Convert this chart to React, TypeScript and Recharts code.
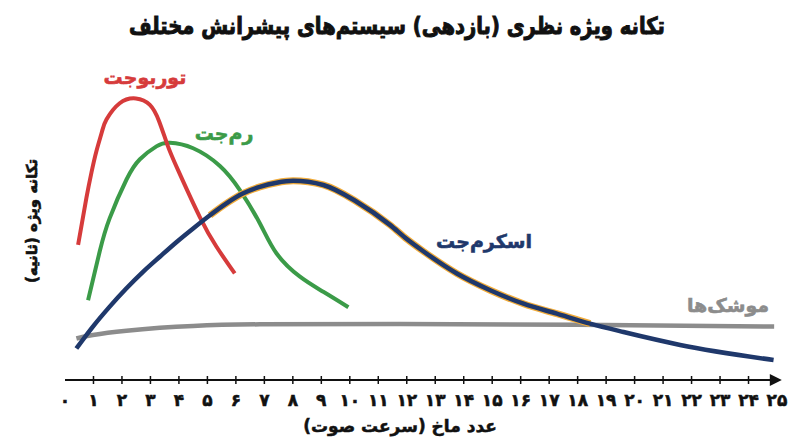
import React from 'react';
import { LineChart, Line, XAxis, YAxis } from 'recharts';

// ---- data ----
const machTicks = [0, 1, 2, 3, 4, 5, 6, 7, 8, 9, 10, 11, 12, 13, 14, 15, 16, 17, 18, 19, 20, 21, 22, 23, 24, 25];
const tickLabels = ['۰', '۱', '۲', '۳', '۴', '۵', '۶', '۷', '۸', '۹', '۱۰', '۱۱', '۱۲', '۱۳', '۱۴', '۱۵', '۱۶', '۱۷', '۱۸', '۱۹', '۲۰', '۲۱', '۲۲', '۲۳', '۲۴', '۲۵'];

const turbojetMach = [0.46, 0.75, 0.93, 1.1, 1.3, 1.46, 1.92, 2.49, 2.98, 3.3, 3.6, 3.97, 4.73, 5.32, 5.96];
const turbojetIsp = [42, 56.5, 64.5, 71, 77.2, 81, 86, 87.5, 85.5, 80.5, 73, 65.2, 50.7, 41.4, 33.1];

const ramjetMach = [0.81, 1.22, 1.57, 2.16, 2.63, 3.21, 3.68, 4.5, 5.44, 6.14, 6.84, 7.43, 8.25, 9.07, 9.95];
const ramjetIsp = [24.8, 40, 50.3, 62.3, 68.6, 72.6, 73.7, 72, 66.5, 59, 48.7, 39.3, 32.1, 27.4, 22.6];

const scramjetMach = [0.4, 0.98, 1.57, 2.16, 2.74, 3.33, 3.92, 4.5, 5.09, 5.67, 6.26, 6.84, 7.43, 8.01, 9.07, 10.24, 11.41, 12.0, 12.58, 13.76, 14.93, 16.1, 17.27, 18.44, 19.61, 21.6, 24.88];
const scramjetIsp = [9.8, 16.6, 22.8, 28.5, 33.6, 38.3, 42.9, 47.1, 51.2, 54.9, 58, 60, 61.3, 61.9, 60.6, 55.4, 48.2, 43.8, 40.0, 33.1, 27.9, 23.7, 20.6, 17.5, 14.9, 10.9, 6.2];
const haloRange = [5.0, 18.5];

const rocketMach = [0.4, 0.98, 2.16, 3.33, 4.5, 6.84, 11.76, 18, 24.9];
const rocketIsp = [12.9, 14, 15.3, 16.2, 16.8, 17.3, 17.4, 17.2, 16.6];

const title = 'تکانه ویژه نظری (بازدهی) سیستم\u200cهای پیشرانش مختلف';
const xTitle = 'عدد ماخ (سرعت صوت)';
const yTitle = 'تکانه ویژه (ثانیه)';
const seriesNames = {
  turbojet: 'توربوجت',
  ramjet: 'رم\u200cجت',
  scramjet: 'اسکرم\u200cجت',
  rocket: 'موشک\u200cها',
};

const toRows = (xs: number[], ys: number[]) => xs.map((m, i) => ({ mach: m, isp: ys[i] }));
const turbojetData = toRows(turbojetMach, turbojetIsp);
const ramjetData = toRows(ramjetMach, ramjetIsp);
const scramjetData = toRows(scramjetMach, scramjetIsp);
const haloData = scramjetData.filter((d) => d.mach >= haloRange[0] && d.mach <= haloRange[1]);
const rocketData = toRows(rocketMach, rocketIsp);

const FONT = '"DejaVu Sans", sans-serif';

const MachTick = (props: any) => {
  const { x, y, payload } = props;
  const v = payload.value as number;
  return (
    <g>
      {v !== 0 && v !== 25 && (
        <line x1={x} x2={x} y1={y - 4} y2={y + 4} stroke="#111" strokeWidth={1.5} />
      )}
      <text x={x} y={y + 26} textAnchor="middle" fontFamily={FONT} fontWeight="bold" fontSize={17} fill="#111" stroke="#111" strokeWidth={0.5}>
        {tickLabels[machTicks.indexOf(v)]}
      </text>
    </g>
  );
};

const txt = (color: string, size: number, sw: number) => ({
  fontFamily: FONT,
  fontWeight: 'bold' as const,
  fontSize: size,
  fill: color,
  stroke: color,
  strokeWidth: sw,
  direction: 'rtl' as const,
  textAnchor: 'middle' as const,
});

export default function App() {
  return (
    <div style={{ position: 'absolute', left: 0, top: 0, width: 800, height: 447, background: '#fff' }}>
      <svg width={0} height={0} style={{ position: 'absolute' }}>
        <defs>
          <marker id="axArrow" viewBox="0 0 10 10" refX="6" refY="5" markerWidth="7" markerHeight="6" orient="auto-start-reverse" markerUnits="strokeWidth">
            <path d="M0,0 L10,5 L0,10 z" fill="#111" />
          </marker>
        </defs>
      </svg>
      <LineChart width={800} height={447} margin={{ top: 63, right: 23, bottom: 0, left: 65 }}>
        <XAxis
          type="number"
          dataKey="mach"
          domain={[0, 25]}
          ticks={machTicks}
          interval={0}
          height={67}
          tickSize={0}
          tickMargin={0}
          tickLine={false}
          tick={<MachTick />}
          axisLine={{ stroke: '#111', strokeWidth: 2, markerEnd: 'url(#axArrow)' }}
          allowDuplicatedCategory={false}
        />
        <YAxis
          type="number"
          domain={[0, 98.5]}
          width={0}
          tick={false}
          tickLine={false}
          axisLine={{ stroke: '#111', strokeWidth: 2, markerStart: 'url(#axArrow)' }}
        />
        <Line data={rocketData} dataKey="isp" type="natural" stroke="#8c8c8c" strokeWidth={4.5} dot={false} isAnimationActive={false} />
        <Line data={ramjetData} dataKey="isp" type="natural" stroke="#3b9b48" strokeWidth={4} dot={false} isAnimationActive={false} />
        <Line data={turbojetData} dataKey="isp" type="natural" stroke="#d63b3b" strokeWidth={4} dot={false} isAnimationActive={false} />
        <Line data={haloData} dataKey="isp" type="monotone" stroke="#f2ac3a" strokeWidth={7} dot={false} isAnimationActive={false} />
        <Line data={scramjetData} dataKey="isp" type="monotone" stroke="#1f386b" strokeWidth={4.5} dot={false} isAnimationActive={false} />
        <g>
          <g transform="translate(397 34) scale(0.93 1.12)">
            <text x={0} y={0} {...txt('#111', 21, 0.9)}>{title}</text>
          </g>
          <text x={400} y={432} {...txt('#111', 17, 0.5)}>{xTitle}</text>
          <text x={32} y={221} dominantBaseline="central" transform="rotate(-90 32 221)" {...txt('#111', 15, 0.6)}>{yTitle}</text>
          <text x={145} y={77} dominantBaseline="central" {...txt('#d63b3b', 19, 0.6)}>{seriesNames.turbojet}</text>
          <text x={224} y={133} dominantBaseline="central" {...txt('#3b9b48', 19, 0.6)}>{seriesNames.ramjet}</text>
          <text x={484} y={241} dominantBaseline="central" {...txt('#1f386b', 19, 0.6)}>{seriesNames.scramjet}</text>
          <text x={728} y={305} dominantBaseline="central" {...txt('#8c8c8c', 19, 0.6)}>{seriesNames.rocket}</text>
        </g>
      </LineChart>
    </div>
  );
}
